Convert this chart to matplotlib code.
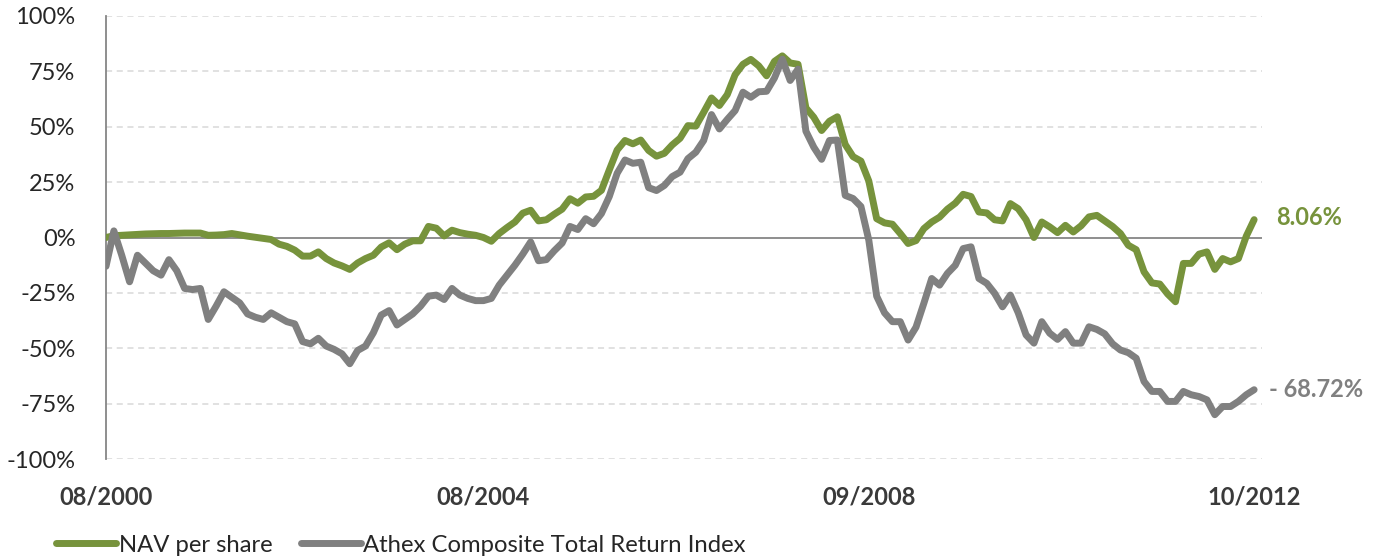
import numpy as np
import matplotlib
matplotlib.use("Agg")
import matplotlib.pyplot as plt

plt.rcParams['font.family'] = ['Lato', 'DejaVu Sans']

# ---- data (monthly, 08/2000 .. 10/2012), cumulative return in % ----
tick_labels = ["08/2000", "08/2004", "09/2008", "10/2012"]
tick_months = [0, 48, 97, 146]

nav = [
    0.0, 0.8, 1.0, 1.2, 1.4, 1.6, 1.7, 1.8, 1.8, 1.9,
    2.0, 2.0, 2.0, 1.0, 1.1, 1.3, 1.8, 1.2, 0.6, 0.1,
    -0.4, -0.9, -3.0, -4.0, -5.7, -8.4, -8.4, -6.5, -9.5, -11.5,
    -12.8, -14.4, -11.5, -9.5, -8.0, -4.3, -2.4, -5.5, -3.0, -1.5,
    -1.5, 5.0, 4.2, 0.7, 3.3, 2.2, 1.5, 1.0, 0.0, -1.7,
    1.8, 4.5, 7.0, 11.0, 12.3, 7.5, 8.0, 10.5, 12.8, 17.5,
    15.5, 18.3, 18.6, 21.3, 30.5, 39.5, 43.8, 42.3, 44.0, 39.3,
    36.7, 38.0, 41.8, 44.8, 50.5, 50.3, 56.5, 63.0, 59.6, 64.5,
    73.5, 78.2, 80.4, 77.5, 73.0, 79.5, 82.0, 78.8, 78.2, 58.5,
    54.3, 48.3, 52.5, 54.5, 42.0, 36.5, 34.5, 25.5, 8.5, 6.6,
    6.0, 1.8, -2.7, -1.4, 4.0, 7.0, 9.2, 12.8, 15.5, 19.5,
    18.5, 11.5, 11.1, 8.0, 7.5, 15.3, 13.0, 8.0, 0.0, 7.0,
    4.8, 2.2, 5.5, 2.5, 5.3, 9.3, 10.0, 7.5, 5.0, 1.8,
    -3.5, -5.5, -15.5, -20.5, -21.0, -25.5, -29.0, -11.7, -11.7, -7.5,
    -6.5, -14.4, -9.5, -11.0, -9.5, 0.6, 8.06,
]

athex = [
    -13, 3, -8, -20, -8, -11.5, -15, -17, -10, -15,
    -23, -23.5, -23, -37, -31, -24.5, -27, -29.5, -34.5, -36,
    -37, -34, -36, -38, -39, -47, -48, -45.5, -49, -50.5,
    -52.5, -57, -51, -49, -43, -35, -33, -39.5, -37, -34.5,
    -31, -26.5, -26, -28, -23, -26, -27.5, -28.5, -28.5, -27.5,
    -21.5, -17, -12.5, -7.5, -2, -10.5, -10, -6, -2.5, 5,
    3.6, 8.5, 6.2, 10.8, 18.5, 29, 35, 33.5, 34, 22.5,
    21.2, 23.5, 27.5, 29.5, 35.6, 38.5, 43.8, 55.5, 49, 53.3,
    57.3, 65.6, 63.3, 65.8, 66, 72, 80.5, 70.9, 76, 48,
    40.8, 35.3, 43.8, 44, 19, 17.6, 14, -1.2, -26.5, -34,
    -38, -38, -46.3, -40.5, -29.7, -18.5, -21.5, -16.2, -12.5, -5,
    -4.2, -18.5, -20.7, -25.2, -31.3, -26, -34, -44, -47.7, -38,
    -43.2, -46, -42.5, -47.7, -47.7, -40.3, -41.5, -43.5, -48, -50.8,
    -52, -54.5, -65, -69.5, -69.5, -74, -74, -69.5, -71, -71.8,
    -73.3, -80, -76.3, -76.3, -74, -71, -68.72,
]

series_names = ["NAV per share", "Athex Composite Total Return Index"]
end_labels = ["8.06%", "- 68.72%"]
colors = ["#77933C", "#808080"]
yticks = [-100, -75, -50, -25, 0, 25, 50, 75, 100]

months = np.arange(len(nav))

W, H = 1376, 560
fig = plt.figure(figsize=(W / 100, H / 100), dpi=100)
ax = fig.add_axes([106 / W, 1 - 459 / H, (1262 - 106) / W, (459 - 16) / H])

# grid
for v in yticks:
    if v == 0:
        continue
    ax.axhline(v, color="#d9d9d9", lw=1.1, ls=(0, (4, 3)), zorder=0)
ax.axhline(0, color="#868686", lw=1.3, zorder=1)

for vals, c, name in zip([nav, athex], colors, series_names):
    ax.plot(months, vals, color=c, lw=5.0, solid_capstyle="round",
            solid_joinstyle="round", label=name, zorder=3)

ax.set_xlim(0, 147)
ax.set_ylim(-100, 100)
ax.set_yticks(yticks)
ax.set_yticklabels([f"{v}%" for v in yticks], fontsize=17, color="#262626")
ax.set_xticks(tick_months)
ax.set_xticklabels(tick_labels, fontsize=17, fontweight="bold", color="#3a3a3a")
ax.tick_params(axis="both", length=0)
ax.tick_params(axis="y", pad=22)
ax.tick_params(axis="x", pad=19)

for s in ["top", "right", "bottom"]:
    ax.spines[s].set_visible(False)
ax.spines["left"].set_color("#868686")
ax.spines["left"].set_linewidth(1.3)

# end labels
ax.annotate(end_labels[0], xy=(months[-1], nav[-1]), xytext=(22, 2),
            textcoords="offset pixels", va="center", ha="left",
            fontsize=17, fontweight="bold", color=colors[0])
ax.annotate(end_labels[1], xy=(months[-1], athex[-1]), xytext=(15, 0),
            textcoords="offset pixels", va="center", ha="left",
            fontsize=17, fontweight="bold", color=colors[1])

fig.legend(loc="center left", bbox_to_anchor=(56 / W, 1 - 545 / H),
           ncol=2, frameon=False, fontsize=17.2, handlelength=2.5,
           handletextpad=0.12, columnspacing=1.2, borderpad=0,
           borderaxespad=0, labelcolor="#262626")

fig.savefig("out.png", dpi=100)
